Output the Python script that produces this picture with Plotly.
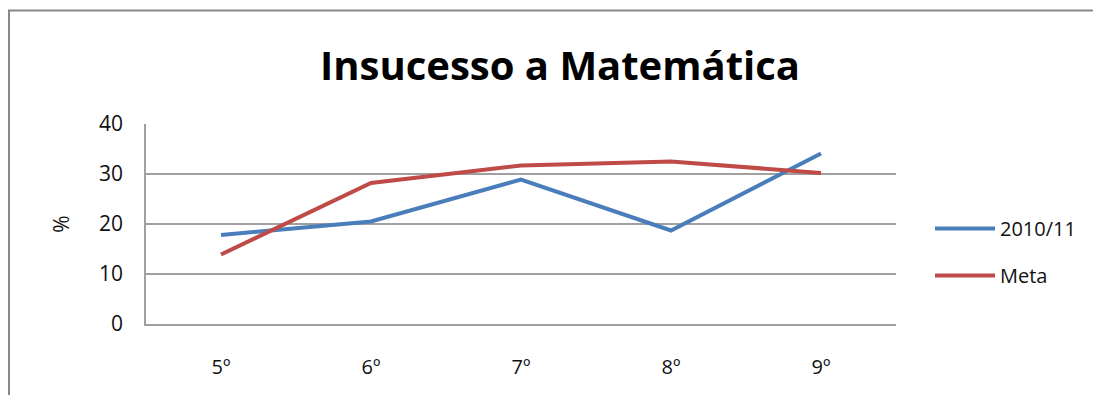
import plotly.graph_objects as go

categories = ["5º", "6º", "7º", "8º", "9º"]
serie_2010 = [17.8, 20.5, 28.9, 18.7, 34.1]
serie_meta = [13.9, 28.2, 31.7, 32.5, 30.2]

OFF = 8  # page body margin offset
W, H = 1101 - 2 * OFF, 403 - 2 * OFF
L, R, T, B = 146 - OFF, 896 - OFF, 124 - OFF, 324 - OFF
pw, ph = R - L, B - T

def px(x):
    return (x - OFF - L) / pw

def py(y):
    return (B - (y - OFF)) / ph

fig = go.Figure()
fig.add_trace(go.Scatter(x=categories, y=serie_2010, mode="lines", name="2010/11",
                         legendgroup="a", line=dict(color="#4a7ebb", width=4)))
fig.add_trace(go.Scatter(x=categories, y=serie_meta, mode="lines", name="Meta",
                         legendgroup="b", line=dict(color="#be4b48", width=4)))

fig.update_layout(
    width=W, height=H,
    margin=dict(l=L, r=W - R, t=T, b=H - B),
    paper_bgcolor="white", plot_bgcolor="white",
    font=dict(family="Open Sans", color="#111111"),
    title=dict(text="Insucesso a Matemática", x=(560 - OFF) / W, xanchor="center",
               xref="container", y=1 - (66 - OFF) / H, yanchor="middle",
               font=dict(family="Open Sans", size=40, color="black", weight=700)),
    showlegend=True,
    legend=dict(x=px(930), y=py(252), xanchor="left", yanchor="middle",
                font=dict(size=20, color="#111111"), tracegroupgap=18,
                itemwidth=60, bgcolor="rgba(0,0,0,0)"),
    xaxis=dict(type="category", showgrid=False, showline=True, linecolor="#a0a0a0",
               linewidth=1.5, ticks="", tickfont=dict(size=20), ticklabelstandoff=24,
               range=[-0.5, 4.5], zeroline=False),
    yaxis=dict(range=[0, 40], dtick=10, showgrid=True, gridcolor="#a0a0a0", gridwidth=1.5,
               showline=True, linecolor="#a0a0a0", linewidth=1.5, ticks="",
               tickfont=dict(size=21), ticklabelstandoff=17, zeroline=False,
               title=dict(text="%", font=dict(size=21), standoff=24)),
    shapes=[dict(type="rect", xref="paper", yref="paper",
                 x0=(1 - L) / pw, x1=px(1130), y0=py(440), y1=py(10.5),
                 line=dict(color="#888888", width=2), layer="below")],
)

fig.write_html("out.html")
